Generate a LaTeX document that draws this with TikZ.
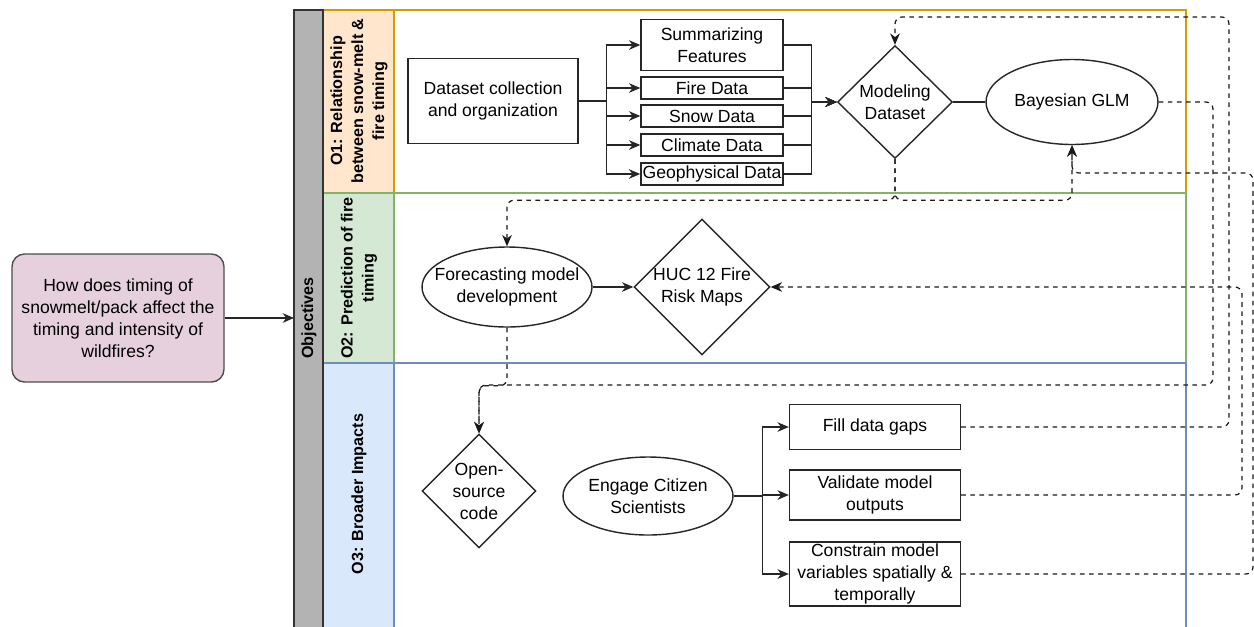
\documentclass[tikz,border=0pt]{standalone}
\usepackage{fontspec}
\setmainfont{Liberation Sans}
\usetikzlibrary{arrows.meta,calc,shapes.geometric,positioning}
\definecolor{o1f}{HTML}{FFE6CC}
\definecolor{o1l}{HTML}{D79B00}
\definecolor{o2f}{HTML}{D5E8D4}
\definecolor{o2l}{HTML}{82B366}
\definecolor{o3f}{HTML}{DAE8FC}
\definecolor{o3l}{HTML}{6C8EBF}
\definecolor{objgray}{HTML}{B3B3B3}
\definecolor{qfill}{HTML}{E6D0DE}

\begin{document}
\begin{tikzpicture}[x=0.02cm, y=-0.02cm, >={Stealth[length=6.5pt,width=5.5pt]},
        every node/.style={font=\fontsize{10}{12.5}\selectfont, align=center},
        box/.style={draw=black!85, line width=0.8pt, minimum width=3.4cm, inner sep=1pt},
        databox/.style={box, minimum width=2.84cm, minimum height=0.44cm, inner ysep=0.5pt},
        oval/.style={ellipse, draw=black!85, line width=0.8pt, inner xsep=-7pt, inner ysep=0pt},
        dmd/.style={diamond, draw=black!85, line width=0.8pt, inner sep=0pt},
        lanehead/.style={rotate=90, font=\fontsize{9.2}{12}\selectfont\bfseries},
        link/.style={draw=black!85, line width=0.7pt},
        dline/.style={link, draw=black!90, dash pattern=on 2.6pt off 2.6pt, rounded corners=4pt}]
                \useasboundingbox (0,0) rectangle (1254,626);
                \clip (0,0) rectangle (1254,626);
                % lanes
                \foreach \lane/\top/\bot in {o1/10/193, o2/193/363, o3/363/640}
                {
                \draw[fill=\lane f, draw=\lane l, line width=0.7pt] (323,\top) rectangle (394,\bot);
                \draw[draw=\lane l, line width=0.7pt] (394,\top) rectangle (1186,\bot);
                }
                \draw[fill=objgray, draw=black!80, line width=0.8pt] (294,10) rectangle (323,640);
                \node[lanehead] (obj) at (309,318) {Objectives};
                \node[lanehead] (o1) at (359,101) {O1: Relationship\\between snow-melt \&\\fire timing};
                \node[lanehead] (o2) at (359,278) {O2: Prediction of fire\\timing};
                \node[lanehead] (o3) at (359,494) {O3: Broader Impacts};
                \coordinate (objin) at (294,318);

                \node[draw=black!70, fill=qfill, line width=0.8pt, rounded corners=0.25cm,
                    minimum width=4.24cm, minimum height=2.56cm] (ques) at (118,318)
                    {How does timing of\\snowmelt/pack affect the\\timing and intensity of\\wildfires?};
                \draw[link,->] (ques) -- (objin);

                % O1
                \node[box, minimum height=1.7cm] (dsc) at (493,101) {Dataset collection\\and organization};
                \node[databox, minimum height=1.02cm] (sumf) at (712,45) {Summarizing\\Features};
                \foreach \n/\y/\t in {fire/88/Fire Data, snow/116/Snow Data, clim/145/Climate Data, geo/174/Geophysical Data}
                {
                \node[databox] (\n) at (712,\y) {\t};
                }
                \node[dmd, minimum width=2.3cm, minimum height=2.26cm] (mdata) at (895,102) {Modeling\\Dataset};
                \node[oval, minimum width=3.44cm, minimum height=1.7cm] (bglm) at (1072,102) {Bayesian GLM};
                \foreach \n in {sumf,fire,snow,clim,geo}
                {
                \draw[link,->] (dsc.east) -- ++(28,0) |- (\n.west);
                \draw[link,->] (\n.east) -- ++(28,0) |- (mdata.west);
                }
                \draw[link] (mdata.east) -- (bglm.west);

                % O2
                \node[oval, minimum width=3.4cm, minimum height=1.6cm] (fcst) at (507,287) {Forecasting model\\development};
                \node[dmd, minimum width=2.66cm, minimum height=2.72cm] (huc) at (702,287) {HUC 12 Fire\\Risk Maps};
                \draw[link,->] (fcst.east) -- (huc.west);

                % O3
                \node[dmd, minimum width=2.28cm, minimum height=2.28cm] (osc) at (479,491) {Open-\\source\\code};
                \node[oval, minimum width=3.4cm, minimum height=1.56cm] (ecs) at (648,496) {Engage Citizen\\Scientists};
                \node[box, minimum width=3.42cm, minimum height=0.9cm] (fill) at (875,427) {Fill data gaps};
                \node[box, minimum width=3.42cm, minimum height=1cm] (valid) at (875,495) {Validate model\\outputs};
                \node[box, minimum width=3.42cm, minimum height=1.28cm] (cons) at (875,574) {Constrain model\\variables spatially \&\\temporally};
                \foreach \n in {fill,valid,cons}
                {
                \draw[link,->] (ecs.east) -- ++(29,0) |- (\n.west);
                }

                % feedback links
                \draw[dline,->] (mdata.south) -- ++(0,41) -| (fcst.north);
                \draw[dline,->] (mdata.south) -- ++(0,41) -| (bglm.south);
                \draw[dline,->] (fcst.south) -- ++(0,58) -| (osc.north);
                \draw[dline,->] (bglm.east) -| (1213,385) -| (osc.north);
                \draw[dline,->] (fill.east) -| (1229,17) -| (mdata.north);
                \draw[dline,->] (valid.east) -| (1242,287) -- (huc.east);
                \draw[dline,->] (cons.east) -| (1253,173) -| (bglm.south);
            \end{tikzpicture}
\end{document}
